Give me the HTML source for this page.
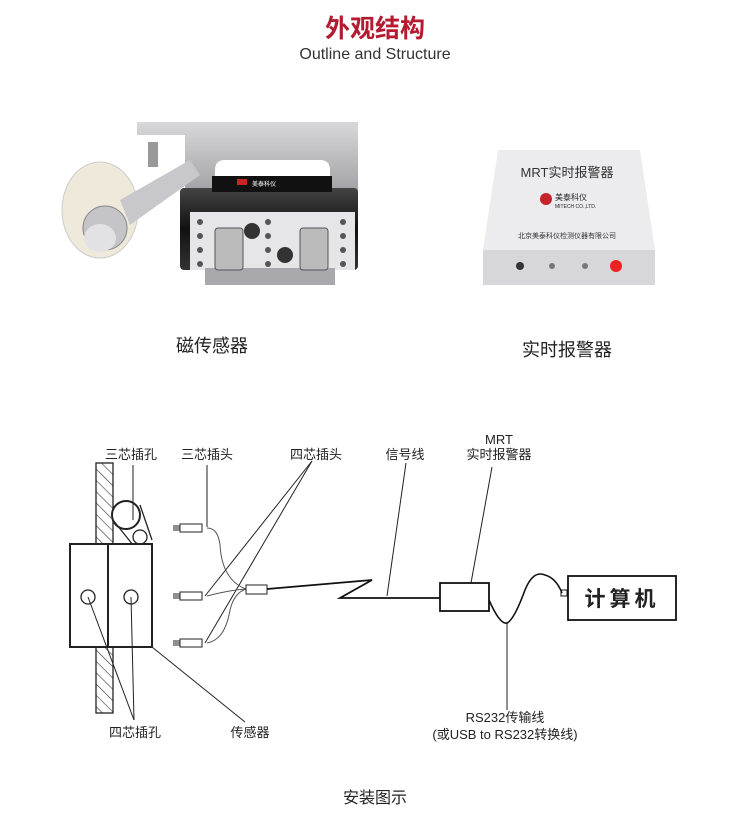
<!DOCTYPE html>
<html><head><meta charset="utf-8"><style>
html,body{margin:0;padding:0;background:#fff;width:750px;height:828px;overflow:hidden}
text{font-family:"Liberation Sans","Noto Sans CJK SC",sans-serif}
</style></head><body>
<svg width="750" height="828" viewBox="0 0 750 828" xmlns="http://www.w3.org/2000/svg">
<defs>
<pattern id="h" width="8" height="8" patternUnits="userSpaceOnUse" patternTransform="rotate(-45)">
<line x1="0" y1="0" x2="0" y2="8" stroke="#333" stroke-width="1.2"/></pattern>
<linearGradient id="met" x1="0" y1="0" x2="0" y2="1"><stop offset="0" stop-color="#d8d8da"/><stop offset="1" stop-color="#9c9ca0"/></linearGradient>
<linearGradient id="blk" x1="0" y1="0" x2="0" y2="1"><stop offset="0" stop-color="#444"/><stop offset=".5" stop-color="#111"/><stop offset="1" stop-color="#333"/></linearGradient>
</defs>
<text x="375" y="37" text-anchor="middle" font-size="25" font-weight="bold" fill="#b51a30">外观结构</text>
<text x="375" y="59" text-anchor="middle" font-size="16" fill="#333">Outline and Structure</text>

<!-- sensor photo -->
<path d="M137 122 L358 122 L358 200 L330 200 L330 170 Q330 160 320 160 L225 160 Q215 160 215 170 L215 200 L185 200 L185 135 L137 135 Z" fill="url(#met)"/>
<rect x="180" y="188" width="178" height="82" rx="4" fill="url(#blk)"/>
<rect x="212" y="176" width="120" height="16" fill="#111"/>
<rect x="237" y="179" width="10" height="6" fill="#c22"/>
<text x="252" y="186" font-size="6" fill="#fff">美泰科仪</text>
<rect x="190" y="212" width="165" height="58" fill="#e6e6e8"/>
<rect x="205" y="268" width="130" height="17" fill="#a9a9ad"/>
<rect x="215" y="228" width="28" height="42" rx="3" fill="#bbb" stroke="#555"/>
<rect x="300" y="228" width="28" height="42" rx="3" fill="#bbb" stroke="#555"/>
<circle cx="252" cy="231" r="8" fill="#333"/><circle cx="285" cy="255" r="8" fill="#333"/>
<g fill="#555"><circle cx="200" cy="222" r="3"/><circle cx="200" cy="236" r="3"/><circle cx="200" cy="250" r="3"/><circle cx="200" cy="264" r="3"/>
<circle cx="268" cy="222" r="3"/><circle cx="268" cy="236" r="3"/><circle cx="268" cy="250" r="3"/><circle cx="268" cy="264" r="3"/>
<circle cx="343" cy="222" r="3"/><circle cx="343" cy="236" r="3"/><circle cx="343" cy="250" r="3"/><circle cx="343" cy="264" r="3"/></g>
<ellipse cx="100" cy="210" rx="38" ry="48" fill="#efe9dc" stroke="#ccc"/>
<path d="M120 200 L190 160 L200 175 L130 225 Z" fill="#c8c8cc"/>
<rect x="148" y="142" width="10" height="25" fill="#999"/>
<circle cx="105" cy="228" r="22" fill="#c5c5c9" stroke="#888"/>
<ellipse cx="100" cy="238" rx="16" ry="14" fill="#e2e2e4"/>

<!-- alarm box -->
<path d="M498 150 L640 150 L655 250 L483 250 Z" fill="#ececee"/>
<rect x="483" y="250" width="172" height="35" fill="#d7d7da"/>
<text x="567" y="177" text-anchor="middle" font-size="13" font-family="Liberation Serif" fill="#333">MRT实时报警器</text>
<circle cx="546" cy="199" r="6" fill="#c8232c"/>
<text x="555" y="200" font-size="8" fill="#222">美泰科仪</text>
<text x="555" y="208" font-size="5" fill="#222">MITECH CO.,LTD.</text>
<text x="567" y="238" text-anchor="middle" font-size="7" fill="#333">北京美泰科仪检测仪器有限公司</text>
<circle cx="520" cy="266" r="4" fill="#333"/><circle cx="552" cy="266" r="3" fill="#777"/><circle cx="585" cy="266" r="3" fill="#777"/><circle cx="616" cy="266" r="6" fill="#e22"/>

<text x="212" y="352" text-anchor="middle" font-size="18" fill="#222">磁传感器</text>
<text x="567" y="356" text-anchor="middle" font-size="18" fill="#222">实时报警器</text>

<!-- diagram -->
<g stroke="#222" fill="none" stroke-width="1.3">
<rect x="96" y="463" width="17" height="250" fill="url(#h)"/>
<circle cx="126" cy="515" r="14" fill="#fff" stroke-width="2"/>
<path d="M113 520 L133 545 M140 505 L152 540" />
<circle cx="140" cy="537" r="7" fill="#fff"/>
<rect x="70" y="544" width="82" height="103" fill="#fff" stroke-width="2"/>
<line x1="108" y1="544" x2="108" y2="647" stroke-width="2"/>
<circle cx="88" cy="597" r="7"/><circle cx="131" cy="597" r="7"/>
</g>
<g stroke="#222" stroke-width="1" fill="none">
<line x1="133" y1="465" x2="133" y2="520"/>
<line x1="207" y1="465" x2="207" y2="527"/>
<line x1="312" y1="461" x2="205" y2="596"/>
<line x1="312" y1="461" x2="205" y2="643"/>
<line x1="406" y1="463" x2="387" y2="596"/>
<line x1="492" y1="467" x2="471" y2="583"/>
<line x1="507" y1="623" x2="507" y2="710"/>
<line x1="88" y1="597" x2="134" y2="720"/>
<line x1="131" y1="597" x2="134" y2="720"/>
<line x1="152" y1="647" x2="245" y2="722"/>
</g>
<g stroke="#555" fill="none" stroke-width="1">
<path d="M207 528 Q218 528 220 545 Q222 580 246 589"/>
<path d="M207 596 Q230 590 246 589"/>
<path d="M207 643 Q225 640 230 610 Q234 593 246 589"/>
</g>
<g stroke="#222" fill="#fff" stroke-width="1">
<rect x="180" y="524" width="22" height="8"/><rect x="180" y="592" width="22" height="8"/><rect x="180" y="639" width="22" height="8"/>
<path d="M173 526 h7 M173 528 h7 M173 530 h7 M173 594 h7 M173 596 h7 M173 598 h7 M173 641 h7 M173 643 h7 M173 645 h7"/>
<rect x="246" y="585" width="21" height="9"/>
</g>
<path d="M267 589 L372 580 L340 598 L440 598" stroke="#111" stroke-width="1.8" fill="none"/>
<rect x="440" y="583" width="49" height="28" fill="#fff" stroke="#111" stroke-width="1.8"/>
<path d="M489 600 Q500 625 507 623 Q514 620 525 590 Q533 570 545 575 Q556 578 562 593" stroke="#111" stroke-width="1.6" fill="none"/>
<rect x="561" y="590" width="6" height="6" fill="none" stroke="#111"/>
<rect x="568" y="576" width="108" height="44" fill="#fff" stroke="#111" stroke-width="1.8"/>
<text x="622" y="606" text-anchor="middle" font-size="21" font-weight="bold" fill="#222" font-family="Liberation Serif,'Noto Serif CJK SC',serif" letter-spacing="4">计算机</text>

<g font-size="13" fill="#222">
<text x="131" y="459" text-anchor="middle">三芯插孔</text>
<text x="207" y="459" text-anchor="middle">三芯插头</text>
<text x="316" y="459" text-anchor="middle">四芯插头</text>
<text x="405" y="459" text-anchor="middle">信号线</text>
<text x="499" y="444" text-anchor="middle">MRT</text>
<text x="499" y="459" text-anchor="middle">实时报警器</text>
<text x="135" y="737" text-anchor="middle">四芯插孔</text>
<text x="250" y="737" text-anchor="middle">传感器</text>
<text x="505" y="722" text-anchor="middle">RS232传输线</text>
<text x="505" y="739" text-anchor="middle">(或USB to RS232转换线)</text>
</g>
<text x="375" y="803" text-anchor="middle" font-size="16" fill="#222">安装图示</text>
</svg>
</body></html>
